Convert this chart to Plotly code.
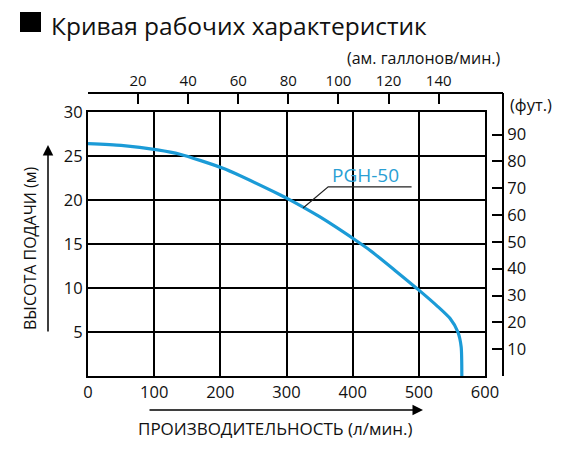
import plotly.graph_objects as go

# curve PGH-50 : flow (l/min) vs head (m)
flow = [0, 50, 105, 139, 204, 290, 303, 350, 405, 426, 464, 501, 527, 547, 559, 564, 565]
head = [26.4, 26.2, 25.7, 25.2, 23.6, 20.6, 20.1, 18.1, 15.4, 14.3, 12.0, 9.7, 8.0, 6.55, 5.0, 3.3, 0]

x_ticks = [0, 100, 200, 300, 400, 500, 600]
y_ticks = [5, 10, 15, 20, 25, 30]
gal_ticks = [20, 40, 60, 80, 100, 120, 140]
ft_ticks = [10, 20, 30, 40, 50, 60, 70, 80, 90]

L_PER_GAL = 3.78541
FT_PER_M = 3.28084

# page body has an 8px margin, so the figure is drawn 8px smaller and shifted
W, H = 559, 447
ml, mt = 80, 85
pw, ph = 415, 283          # outer frame (top gallon axis / right feet axis)
mr, mb = W - ml - pw, H - mt - ph
fx = 397 / pw   # main plot width inside the outer frame
fy = 264 / ph   # main plot height inside the outer frame

font = "Open Sans"
blue = "#1b9bd7"
ink = "#111"

fig = go.Figure()
fig.add_trace(go.Scatter(x=flow, y=head, mode="lines", line=dict(color=blue, width=3.2, shape="spline", smoothing=0.6),
                         showlegend=False, hoverinfo="skip"))
fig.add_trace(go.Scatter(x=[None], y=[None], xaxis="x2", yaxis="y2", showlegend=False, hoverinfo="skip"))

axcommon = dict(showgrid=True, gridcolor="black", gridwidth=2, zeroline=False,
                showline=True, linecolor="black", linewidth=2, mirror=True, ticks="",
                tickfont=dict(family=font, size=16.5, color=ink))
sidecommon = dict(ticks="inside", ticklen=10, tickwidth=2, tickcolor="black",
                  showline=True, linecolor="black", linewidth=2, showgrid=False, zeroline=False)

fig.update_layout(
    width=W, height=H, autosize=False,
    margin=dict(l=ml, r=mr, t=mt, b=mb),
    paper_bgcolor="white", plot_bgcolor="rgba(0,0,0,0)",
    xaxis=dict(domain=[0, fx], range=[0, 600], tickvals=x_ticks, **axcommon),
    yaxis=dict(domain=[0, fy], range=[0, 30], tickvals=y_ticks, **axcommon),
    xaxis2=dict(domain=[0, 1], range=[0, 600 / fx / L_PER_GAL], anchor="free", position=1, side="top",
                tickvals=gal_ticks, tickfont=dict(family=font, size=15, color=ink), **sidecommon),
    yaxis2=dict(domain=[0, 1], range=[0, 30 / fy * FT_PER_M], anchor="free", position=1, side="right",
                tickvals=ft_ticks, tickfont=dict(family=font, size=16.5, color=ink), **sidecommon),
)

# reference pixel -> paper coords
def px_x(p):
    return (p - 88) / pw

def px_y(p):
    return (376 - p) / ph

def label(x, y, text, size, xanchor="center", yanchor="middle", **kw):
    fig.add_annotation(x=px_x(x), y=px_y(y), xref="paper", yref="paper", text=text, showarrow=False,
                       xanchor=xanchor, yanchor=yanchor, borderpad=0,
                       font=dict(family=font, size=size, color=ink), **kw)

# label leader
fig.add_shape(type="path", xref="x", yref="y", path="M 325,19.1 L 363,21.5 L 489,21.5",
              line=dict(color="#222", width=1.2))
fig.add_annotation(x=366, y=22.8, xref="x", yref="y", text="PGH-50", showarrow=False,
                   xanchor="left", yanchor="middle", font=dict(family=font, size=19, color="#2a9fd4"))

# title
fig.add_shape(type="rect", xref="paper", yref="paper", x0=px_x(20), x1=px_x(41), y0=px_y(32), y1=px_y(12),
              fillcolor="black", line=dict(width=0))
label(50, 8, "Кривая рабочих характеристик", 24.5, xanchor="left", yanchor="top")

label(501, 58, "(ам. галлонов/мин.)", 16, xanchor="right")
label(509, 104, "(фут.)", 16.5, xanchor="left")

# axis titles with arrows
label(30, 248, "ВЫСОТА ПОДАЧИ (м)", 16, textangle=-90)
fig.add_annotation(x=px_x(48), y=px_y(145), xref="paper", yref="paper", text="", showarrow=True,
                   ax=0, ay=188, arrowhead=2, arrowsize=1.4, arrowwidth=1.5, arrowcolor="black")
label(275, 428, "ПРОИЗВОДИТЕЛЬНОСТЬ (л/мин.)", 17)
fig.add_annotation(x=px_x(423), y=px_y(410), xref="paper", yref="paper", text="", showarrow=True,
                   ax=-275, ay=0, arrowhead=2, arrowsize=1.4, arrowwidth=1.5, arrowcolor="black")

fig.write_html("out.html")
